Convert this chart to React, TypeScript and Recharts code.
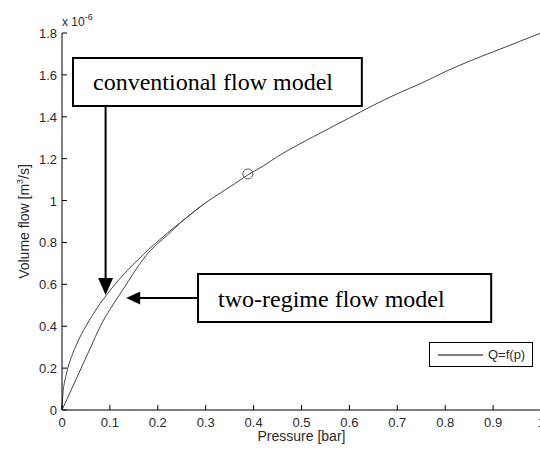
import {
  LineChart,
  Line,
  XAxis,
  YAxis,
  ReferenceArea,
  ReferenceLine,
  ReferenceDot,
  Legend,
} from 'recharts';

// flow in units of 1e-6 m^3/s
const conventionalPressure = [
  0, 0.002, 0.005, 0.008, 0.012, 0.016, 0.02, 0.025, 0.03, 0.04, 0.05, 0.06, 0.07, 0.08,
  0.09, 0.1, 0.12, 0.14, 0.16, 0.18, 0.2, 0.22, 0.25, 0.28, 0.3, 0.33, 0.36, 0.39, 0.42,
  0.45, 0.5, 0.55, 0.6, 0.65, 0.7, 0.75, 0.8, 0.85, 0.9, 0.95, 1.0,
];
const conventionalFlow = [
  0, 0.08, 0.13, 0.16, 0.2, 0.23, 0.255, 0.285, 0.31, 0.36, 0.4, 0.44, 0.475, 0.51,
  0.54, 0.57, 0.625, 0.675, 0.72, 0.765, 0.805, 0.845, 0.9, 0.955, 0.99, 1.035, 1.08, 1.125, 1.165,
  1.21, 1.275, 1.335, 1.395, 1.455, 1.51, 1.56, 1.615, 1.665, 1.71, 1.755, 1.8,
];
const twoRegimePressure = [
  0, 0.01, 0.02, 0.04, 0.06, 0.08, 0.1, 0.12, 0.14, 0.16, 0.18, 0.2, 0.22, 0.25, 0.28, 0.3,
];
const twoRegimeFlow = [
  0, 0.05, 0.1, 0.2, 0.3, 0.4, 0.48, 0.55, 0.62, 0.69, 0.75, 0.795, 0.835, 0.9, 0.955, 0.99,
];
const markedPoint = { p: 0.388, q: 1.127 };

const xTicks = [0, 0.1, 0.2, 0.3, 0.4, 0.5, 0.6, 0.7, 0.8, 0.9, 1];
const yTicks = [0, 0.2, 0.4, 0.6, 0.8, 1, 1.2, 1.4, 1.6, 1.8];

const conventionalData = conventionalPressure.map((p, i) => ({ p, q: conventionalFlow[i] }));
const twoRegimeData = twoRegimePressure.map((p, i) => ({ p, q: twoRegimeFlow[i] }));

// annotation boxes + arrows (data coordinates)
const conventionalNote = {
  text: 'conventional flow model',
  x1: 0.023, x2: 0.626, y1: 1.451, y2: 1.681,
  arrowX: 0.091, arrowTipY: 0.549,
};
const twoRegimeNote = {
  text: 'two-regime flow model',
  x1: 0.284, x2: 0.896, y1: 0.42, y2: 0.649,
  arrowY: 0.535, arrowTipX: 0.134,
};

const AXIS_FONT = '"Liberation Sans", Arial, sans-serif';
const NOTE_FONT = '"Liberation Serif", "Times New Roman", serif';
const TEXT_COLOR = '#2a2a2a';
const TICK_LEN = 5;

const fmt = (v: number) => String(Number(v.toFixed(1)));

function BottomTick({ x, y, payload }: any) {
  return (
    <g>
      <line x1={x} x2={x} y1={y} y2={y - TICK_LEN} stroke="#000" />
      <text x={x} y={y + 17} textAnchor="middle" fontSize={13} fontFamily={AXIS_FONT} fill={TEXT_COLOR}>
        {fmt(payload.value)}
      </text>
    </g>
  );
}

function TopTick({ x, y }: any) {
  return <line x1={x} x2={x} y1={y} y2={y + TICK_LEN} stroke="#000" />;
}

function LeftTick({ x, y, payload }: any) {
  return (
    <g>
      <line x1={x} x2={x + TICK_LEN} y1={y} y2={y} stroke="#000" />
      <text x={x - 5} y={y + 5} textAnchor="end" fontSize={13} fontFamily={AXIS_FONT} fill={TEXT_COLOR}>
        {fmt(payload.value)}
      </text>
    </g>
  );
}

function RightTick({ x, y }: any) {
  return <line x1={x - TICK_LEN} x2={x} y1={y} y2={y} stroke="#000" />;
}

function XTitle(props: any) {
  const vb = props.viewBox || { x: 62, y: 410, width: 479, height: 40 };
  return (
    <text
      x={vb.x + vb.width / 2}
      y={vb.y + 31}
      textAnchor="middle"
      fontSize={14}
      fontFamily={AXIS_FONT}
      fill={TEXT_COLOR}
    >
      Pressure [bar]
    </text>
  );
}

function YTitle(props: any) {
  const vb = props.viewBox || { x: 0, y: 33, width: 62, height: 377 };
  const cx = 24;
  const cy = vb.y + vb.height / 2;
  return (
    <g fontFamily={AXIS_FONT} fill={TEXT_COLOR}>
      <text transform={`rotate(-90, ${cx}, ${cy})`} x={cx} y={cy + 5} textAnchor="middle" fontSize={14}>
        Volume flow [m
        <tspan dy={-6} fontSize={9}>3</tspan>
        <tspan dy={6}>/s]</tspan>
      </text>
      <text x={vb.x + vb.width} y={vb.y - 7} fontSize={12}>
        x 10
        <tspan dy={-6} fontSize={9}>-6</tspan>
      </text>
    </g>
  );
}

function NoteText({ viewBox, text, dy }: any) {
  return (
    <text
      x={viewBox.x + 20}
      y={viewBox.y + viewBox.height / 2 + dy}
      fontSize={24}
      fontFamily={NOTE_FONT}
      fill="#000"
    >
      {text}
    </text>
  );
}

function DownHead({ cx, cy }: any) {
  return <polygon points={`${cx - 7.5},${cy - 17} ${cx + 7.5},${cy - 17} ${cx},${cy}`} fill="#000" />;
}

function LeftHead({ cx, cy }: any) {
  return <polygon points={`${cx},${cy} ${cx + 14},${cy - 6.5} ${cx + 14},${cy + 6.5}`} fill="#000" />;
}

function Ring({ cx, cy }: any) {
  return <circle cx={cx} cy={cy} r={5} fill="none" stroke="#555" strokeWidth={1} />;
}

function LegendBox() {
  return (
    <div
      style={{
        border: '1px solid #000',
        background: '#fff',
        width: 102,
        height: 23,
        display: 'flex',
        alignItems: 'center',
        fontFamily: AXIS_FONT,
        fontSize: 13,
        color: TEXT_COLOR,
      }}
    >
      <svg width={54} height={10}>
        <line x1={8} x2={53} y1={5} y2={5} stroke="#000" />
      </svg>
      <span style={{ marginLeft: 4 }}>Q=f(p)</span>
    </div>
  );
}

export default function App() {
  return (
    <div style={{ width: 540, height: 450, overflow: 'hidden', background: '#fff' }}>
      <style>{'body{margin:0}'}</style>
      <LineChart width={542} height={450} margin={{ top: 33, right: 1, bottom: 0, left: 0 }}>
        <XAxis
          type="number"
          dataKey="p"
          domain={[0, 1]}
          ticks={xTicks}
          interval={0}
          height={40}
          tickLine={false}
          tickSize={0}
          tickMargin={0}
          tick={<BottomTick />}
          axisLine={{ stroke: '#000' }}
          label={(props: any) => <XTitle {...props} />}
        />
        <XAxis
          xAxisId="top"
          orientation="top"
          type="number"
          domain={[0, 1]}
          ticks={xTicks}
          interval={0}
          height={0}
          tickLine={false}
          tickSize={0}
          tickMargin={0}
          tick={<TopTick />}
          axisLine={{ stroke: '#000' }}
        />
        <YAxis
          type="number"
          domain={[0, 1.8]}
          ticks={yTicks}
          interval={0}
          width={62}
          tickLine={false}
          tickSize={0}
          tickMargin={0}
          tick={<LeftTick />}
          axisLine={{ stroke: '#000' }}
          label={(props: any) => <YTitle {...props} />}
        />
        <YAxis
          yAxisId="right"
          orientation="right"
          type="number"
          domain={[0, 1.8]}
          ticks={yTicks}
          interval={0}
          width={0}
          tickLine={false}
          tickSize={0}
          tickMargin={0}
          tick={<RightTick />}
          axisLine={{ stroke: '#000' }}
        />
        <Legend
          layout="horizontal"
          verticalAlign="middle"
          align="center"
          wrapperStyle={{ left: 429, top: 342, width: 104, height: 25 }}
          content={() => <LegendBox />}
        />
        <Line
          data={conventionalData}
          dataKey="q"
          type="monotone"
          stroke="#444"
          strokeWidth={1}
          dot={false}
          isAnimationActive={false}
        />
        <Line
          data={twoRegimeData}
          dataKey="q"
          type="monotone"
          stroke="#444"
          strokeWidth={1}
          dot={false}
          isAnimationActive={false}
        />
        <ReferenceDot x={markedPoint.p} y={markedPoint.q} r={5} shape={<Ring />} />

        <ReferenceArea
          x1={conventionalNote.x1}
          x2={conventionalNote.x2}
          y1={conventionalNote.y1}
          y2={conventionalNote.y2}
          fill="#fff"
          fillOpacity={1}
          stroke="#000"
          strokeWidth={2}
          label={(props: any) => <NoteText viewBox={props.viewBox} text={conventionalNote.text} dy={8} />}
        />
        <ReferenceLine
          segment={[
            { x: conventionalNote.arrowX, y: conventionalNote.y1 },
            { x: conventionalNote.arrowX, y: conventionalNote.arrowTipY + 0.05 },
          ]}
          stroke="#000"
          strokeWidth={2}
        />
        <ReferenceDot x={conventionalNote.arrowX} y={conventionalNote.arrowTipY} r={1} shape={<DownHead />} />

        <ReferenceArea
          x1={twoRegimeNote.x1}
          x2={twoRegimeNote.x2}
          y1={twoRegimeNote.y1}
          y2={twoRegimeNote.y2}
          fill="#fff"
          fillOpacity={1}
          stroke="#000"
          strokeWidth={2}
          label={(props: any) => <NoteText viewBox={props.viewBox} text={twoRegimeNote.text} dy={9} />}
        />
        <ReferenceLine
          segment={[
            { x: twoRegimeNote.x1, y: twoRegimeNote.arrowY },
            { x: twoRegimeNote.arrowTipX + 0.02, y: twoRegimeNote.arrowY },
          ]}
          stroke="#000"
          strokeWidth={2}
        />
        <ReferenceDot x={twoRegimeNote.arrowTipX} y={twoRegimeNote.arrowY} r={1} shape={<LeftHead />} />
      </LineChart>
    </div>
  );
}
